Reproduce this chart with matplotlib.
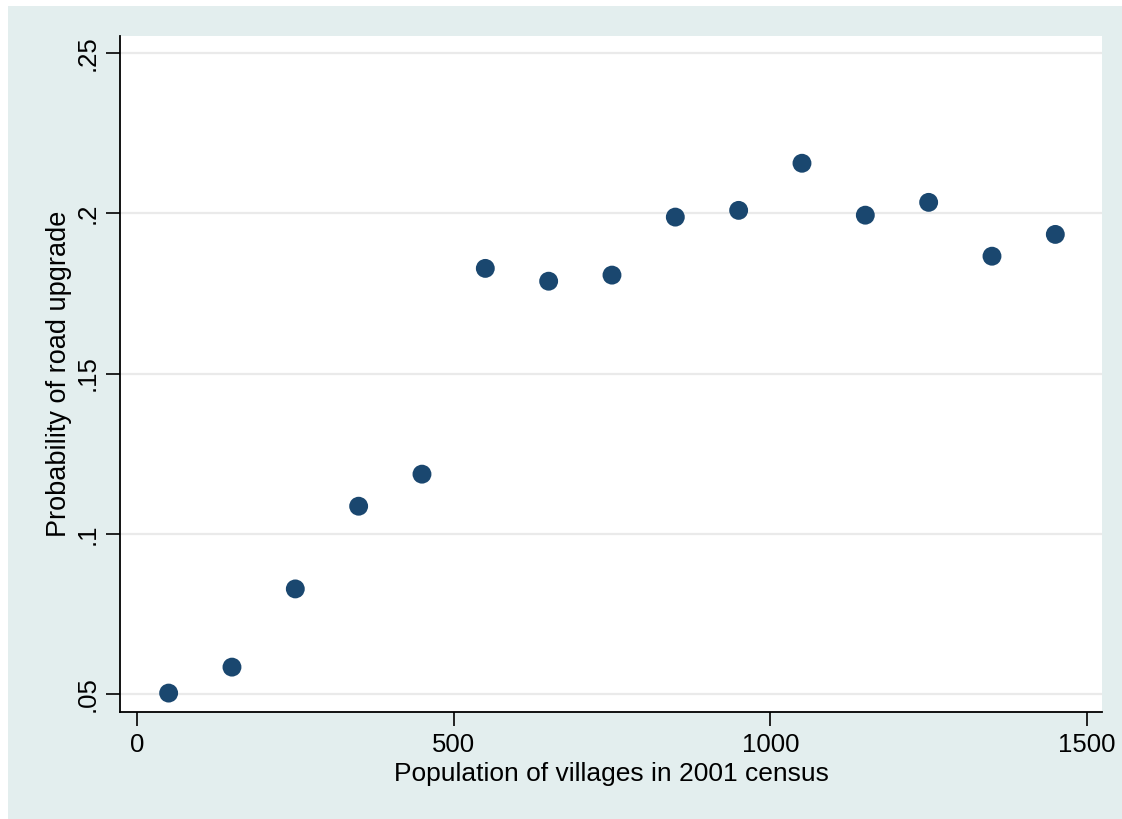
import matplotlib.pyplot as plt
from matplotlib.patches import Rectangle

# binned means
pop_bins = [50, 150, 250, 350, 450, 550, 650, 750, 850, 950, 1050, 1150, 1250, 1350, 1450]
prob_upgrade = [0.0503, 0.0584, 0.0828, 0.1086, 0.1186, 0.1828, 0.1788, 0.1807,
                0.1988, 0.2009, 0.2156, 0.1994, 0.2034, 0.1866, 0.1934]
yticks = [0.05, 0.1, 0.15, 0.2, 0.25]
ytick_labels = ['.05', '.1', '.15', '.2', '.25']
xticks = [0, 500, 1000, 1500]

plt.rcParams['font.family'] = ['Liberation Sans', 'DejaVu Sans']

W, H = 1122, 819
fig = plt.figure(figsize=(W / 100, H / 100), dpi=100, facecolor='white')
# light stata background with thin white margin top/left
fig.patches.append(Rectangle((8 / W, 0), 1, 1 - 6 / H, transform=fig.transFigure,
                             facecolor='#E3EEEE', edgecolor='none', zorder=-10))
ax = fig.add_axes([120 / W, 1 - 712 / H, (1102 - 120) / W, (712 - 36) / H])
ax.set_facecolor('white')

for y in yticks:
    ax.axhline(y, color='#EAEAEA', lw=1.6, zorder=0)

ax.scatter(pop_bins, prob_upgrade, s=185, color='#1A476F', edgecolors='none', zorder=3)

ax.set_xlim(-26.8, 1523.7)
ax.set_ylim(0.0444, 0.2553)
ax.set_xticks(xticks)
ax.set_yticks(yticks)
ax.set_yticklabels(ytick_labels, rotation=90, va='center')
ax.tick_params(direction='out', length=10, width=1.2, labelsize=18.5, pad=5)

for side in ['top', 'right']:
    ax.spines[side].set_visible(False)
for side in ['left', 'bottom']:
    ax.spines[side].set_linewidth(1.3)

ax.set_xlabel('Population of villages in 2001 census', fontsize=19, labelpad=4)
ax.set_ylabel('Probability of road upgrade', fontsize=19.5, labelpad=2)

fig.savefig('out.png', dpi=100, facecolor=fig.get_facecolor())
